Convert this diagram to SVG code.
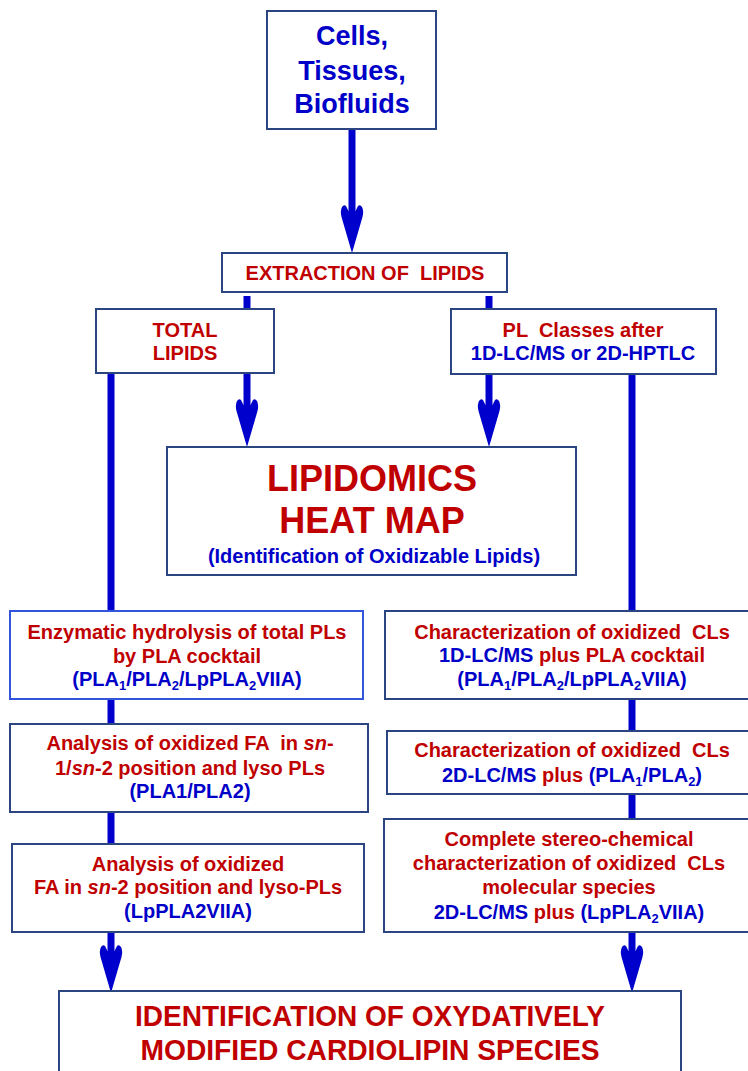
<svg xmlns="http://www.w3.org/2000/svg" xmlns:xlink="http://www.w3.org/1999/xlink" width="748" height="1071" viewBox="0 0 748 1071">
<style>
text{font-family:"Liberation Sans",Arial,sans-serif;font-weight:bold;text-anchor:middle;white-space:pre}
.r{fill:#c00000}
.b{fill:#0000c8}
.box{fill:#fff;stroke:#2b4580;stroke-width:2}
.box2{fill:#fff;stroke:#3355dd;stroke-width:2}
.ln{stroke:#0000cc;stroke-width:7;fill:none}
.ah{fill:#0000cc}
.t20{font-size:20px}
.s{font-size:13px}
</style>
<defs>
<path id="ah" d="M0,0 L-10.5,-36 Q-12,-42 -10,-46 Q-8,-49 -6,-47 L-3.5,-42 L3.5,-42 L6,-47 Q8,-49 10,-46 Q12,-42 10.5,-36 Z"/>
</defs>
<rect width="748" height="1071" fill="#fff"/>
<g id="connectors">
<line class="ln" x1="352" y1="129" x2="352" y2="213"/>
<use href="#ah" class="ah" transform="translate(352,253)"/>
<line class="ln" x1="247" y1="296" x2="247" y2="309"/>
<line class="ln" x1="489" y1="296" x2="489" y2="309"/>
<line class="ln" x1="247" y1="373" x2="247" y2="407"/>
<use href="#ah" class="ah" transform="translate(247,447)"/>
<line class="ln" x1="489" y1="374" x2="489" y2="407"/>
<use href="#ah" class="ah" transform="translate(489,447)"/>
<line class="ln" x1="111" y1="373" x2="111" y2="611"/>
<line class="ln" x1="111" y1="699" x2="111" y2="724"/>
<line class="ln" x1="111" y1="812" x2="111" y2="844"/>
<line class="ln" x1="111" y1="932" x2="111" y2="953"/>
<use href="#ah" class="ah" transform="translate(111,993)"/>
<line class="ln" x1="632" y1="374" x2="632" y2="611"/>
<line class="ln" x1="632" y1="699" x2="632" y2="731"/>
<line class="ln" x1="632" y1="794" x2="632" y2="819"/>
<line class="ln" x1="632" y1="932" x2="632" y2="953"/>
<use href="#ah" class="ah" transform="translate(632,993)"/>
</g>
<g id="source">
<rect class="box" x="267" y="11" width="169" height="118"/>
<text class="b" x="352" y="45" font-size="27">Cells,</text>
<text class="b" x="352" y="80" font-size="27">Tissues,</text>
<text class="b" x="352" y="113" font-size="27">Biofluids</text>
</g>
<g id="extraction">
<rect class="box" x="222" y="253" width="285" height="39"/>
<text class="r t20" x="365" y="280">EXTRACTION OF  LIPIDS</text>
</g>
<g id="total-lipids">
<rect class="box" x="96" y="309" width="178" height="64"/>
<text class="r t20" x="185" y="337">TOTAL</text>
<text class="r t20" x="185" y="360">LIPIDS</text>
</g>
<g id="pl-classes">
<rect class="box" x="451" y="309" width="265" height="65"/>
<text class="r t20" x="583" y="337">PL  Classes after</text>
<text class="b t20" x="583" y="360">1D-LC/MS or 2D-HPTLC</text>
</g>
<g id="heat-map">
<rect class="box" x="167" y="447" width="409" height="128"/>
<text class="r" x="372" y="491" font-size="36">LIPIDOMICS</text>
<text class="r" x="372" y="533" font-size="36">HEAT MAP</text>
<text class="b t20" x="374" y="563">(Identification of Oxidizable Lipids)</text>
</g>
<g id="enzymatic">
<rect class="box2" x="10" y="611" width="353" height="88"/>
<text class="r t20" x="187" y="639">Enzymatic hydrolysis of total PLs</text>
<text class="r t20" x="187" y="663">by PLA cocktail</text>
<text class="b t20" x="187" y="686">(PLA<tspan class="s" dy="4">1</tspan><tspan dy="-4">/PLA</tspan><tspan class="s" dy="4">2</tspan><tspan dy="-4">/LpPLA</tspan><tspan class="s" dy="4">2</tspan><tspan dy="-4">VIIA)</tspan></text>
</g>
<g id="analysis-sn1-sn2">
<rect class="box" x="10" y="724" width="358" height="88"/>
<text class="r t20" x="190" y="750">Analysis of oxidized FA  in <tspan font-style="italic">sn</tspan>-</text>
<text class="r t20" x="190" y="775">1/<tspan font-style="italic">sn</tspan>-2 position and lyso PLs</text>
<text class="b t20" x="190" y="798">(PLA1/PLA2)</text>
</g>
<g id="analysis-sn2">
<rect class="box" x="12" y="844" width="352" height="88"/>
<text class="r t20" x="188" y="871">Analysis of oxidized</text>
<text class="r t20" x="188" y="894">FA in <tspan font-style="italic">sn</tspan>-2 position and lyso-PLs</text>
<text class="b t20" x="188" y="918">(LpPLA2VIIA)</text>
</g>
<g id="char-1d">
<rect class="box" x="385" y="611" width="380" height="88"/>
<text class="r t20" x="572" y="639">Characterization of oxidized  CLs</text>
<text class="t20" x="572" y="662"><tspan class="b">1D-LC/MS</tspan><tspan class="r"> plus PLA cocktail</tspan></text>
<text class="b t20" x="572" y="686">(PLA<tspan class="s" dy="4">1</tspan><tspan dy="-4">/PLA</tspan><tspan class="s" dy="4">2</tspan><tspan dy="-4">/LpPLA</tspan><tspan class="s" dy="4">2</tspan><tspan dy="-4">VIIA)</tspan></text>
</g>
<g id="char-2d">
<rect class="box" x="387" y="731" width="380" height="63"/>
<text class="r t20" x="572" y="757">Characterization of oxidized  CLs</text>
<text class="t20" x="572" y="782"><tspan class="b">2D-LC/MS</tspan><tspan class="r"> plus </tspan><tspan class="b">(PLA</tspan><tspan class="b s" dy="4">1</tspan><tspan class="b" dy="-4">/PLA</tspan><tspan class="b s" dy="4">2</tspan><tspan class="b" dy="-4">)</tspan></text>
</g>
<g id="stereo">
<rect class="box" x="384" y="819" width="380" height="113"/>
<text class="r t20" x="569" y="846">Complete stereo-chemical</text>
<text class="r t20" x="569" y="870">characterization of oxidized  CLs</text>
<text class="r t20" x="569" y="894">molecular species</text>
<text class="t20" x="569" y="919"><tspan class="b">2D-LC/MS</tspan><tspan class="r"> plus </tspan><tspan class="b">(LpPLA</tspan><tspan class="b s" dy="4">2</tspan><tspan class="b" dy="-4">VIIA)</tspan></text>
</g>
<g id="identification">
<rect class="box" x="59" y="991" width="622" height="100"/>
<text class="r" x="370" y="1026" font-size="29" textLength="470" lengthAdjust="spacingAndGlyphs">IDENTIFICATION OF OXYDATIVELY</text>
<text class="r" x="370" y="1060" font-size="29" textLength="459" lengthAdjust="spacingAndGlyphs">MODIFIED CARDIOLIPIN SPECIES</text>
</g>
</svg>
